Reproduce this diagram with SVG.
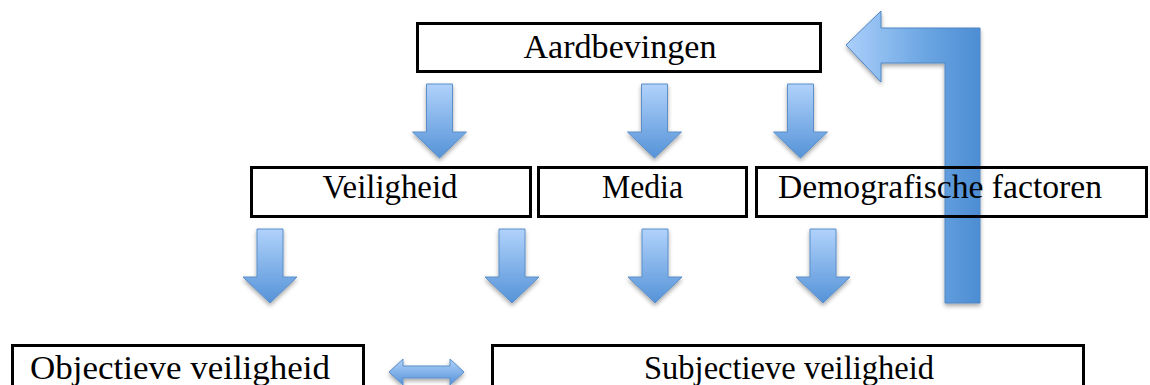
<svg xmlns="http://www.w3.org/2000/svg" xmlns:xlink="http://www.w3.org/1999/xlink" width="1150" height="385" viewBox="0 0 1150 385">
  <style>
    .box { fill: none; stroke: #000; stroke-width: 3; }
    .lbl { font-family: "Liberation Serif", "Times New Roman", serif; font-size: 33px; fill: #000; text-anchor: middle; }
    .arr { fill: url(#gDown); stroke: #5b8fc9; stroke-width: 1; filter: url(#sh); }
  </style>
  <defs>
    <linearGradient id="gDown" x1="0" y1="0" x2="0" y2="1">
      <stop offset="0" stop-color="#b1d2fb"/>
      <stop offset="1" stop-color="#5593d8"/>
    </linearGradient>
    <linearGradient id="gBent" gradientUnits="userSpaceOnUse" x1="846" y1="0" x2="980" y2="0">
      <stop offset="0" stop-color="#abcffa"/>
      <stop offset="0.6" stop-color="#6aa5e2"/>
      <stop offset="1" stop-color="#4d8dd3"/>
    </linearGradient>
    <filter id="sh" x="-30%" y="-20%" width="160%" height="150%">
      <feDropShadow dx="0" dy="2.5" stdDeviation="2" flood-color="#000" flood-opacity="0.35"/>
    </filter>
    <path id="down" d="M-13,0 H13 V48 H27 L0,74 L-27,48 H-13 Z"/>
  </defs>

  <g id="connectors">
    <path d="M846,45 L881,11 L881,28 L980,28 L980,303 L945,303 L945,63 L881,63 L881,82 Z" fill="url(#gBent)" stroke="#4f86c4" stroke-width="1" filter="url(#sh)"/>
    <use href="#down" x="439.5" y="84" class="arr"/>
    <use href="#down" x="654.5" y="84" class="arr"/>
    <use href="#down" x="800.5" y="84" class="arr"/>
    <use href="#down" x="270" y="229" class="arr"/>
    <use href="#down" x="512" y="229" class="arr"/>
    <use href="#down" x="655" y="229" class="arr"/>
    <use href="#down" x="823" y="229" class="arr"/>
    <path d="M389,372 L403,359 L403,366 L450,366 L450,359 L464,372 L450,385 L450,378 L403,378 L403,385 Z" class="arr"/>
  </g>

  <g id="aardbevingen">
    <rect class="box" x="417.5" y="23.5" width="403" height="48"/>
    <text class="lbl" x="620" y="58" textLength="193" lengthAdjust="spacingAndGlyphs">Aardbevingen</text>
  </g>
  <g id="veiligheid">
    <rect class="box" x="251.5" y="167.5" width="279" height="49"/>
    <text class="lbl" x="390" y="198" textLength="135" lengthAdjust="spacingAndGlyphs">Veiligheid</text>
  </g>
  <g id="media">
    <rect class="box" x="538.5" y="167.5" width="208" height="49"/>
    <text class="lbl" x="642.5" y="198" textLength="81" lengthAdjust="spacingAndGlyphs">Media</text>
  </g>
  <g id="demografische">
    <rect class="box" x="756.5" y="167.5" width="390" height="49"/>
    <text class="lbl" x="940" y="198" textLength="324" lengthAdjust="spacingAndGlyphs">Demografische factoren</text>
  </g>
  <g id="objectieve">
    <rect class="box" x="12.5" y="345.5" width="351" height="60"/>
    <text class="lbl" x="180" y="379" textLength="300" lengthAdjust="spacingAndGlyphs">Objectieve veiligheid</text>
  </g>
  <g id="subjectieve">
    <rect class="box" x="492.5" y="345.5" width="591" height="60"/>
    <text class="lbl" x="789" y="379" textLength="290" lengthAdjust="spacingAndGlyphs">Subjectieve veiligheid</text>
  </g>
</svg>
